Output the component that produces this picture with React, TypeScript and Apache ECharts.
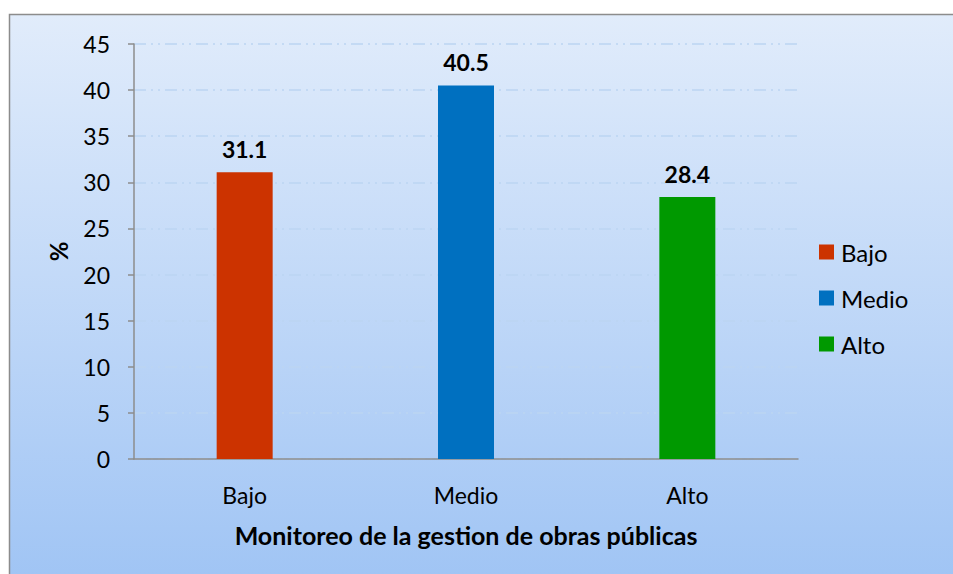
import React, { useEffect, useRef } from "react";
import * as echarts from "echarts";

const categories = ["Bajo", "Medio", "Alto"];
const seriesNames = ["Bajo", "Medio", "Alto"];
const values = [31.1, 40.5, 28.4];
const colors = ["#cc3300", "#0070c0", "#009900"];
const xTitle = "Monitoreo de la gestion de obras públicas";
const yTitle = "%";

const FONT = "Lato, 'Open Sans', sans-serif";

export default function App() {
  const ref = useRef<HTMLDivElement>(null);
  useEffect(() => {
    if (!ref.current) return;
    const chart = echarts.init(ref.current, undefined, { renderer: "svg" });
    const series = seriesNames.map((name, i) => ({
      name,
      type: "bar",
      stack: "all",
      barWidth: 56,
      data: categories.map((_, j) => (j === i ? values[i] : "-")),
      itemStyle: { color: colors[i] },
      label: {
        show: true,
        position: "top",
        distance: 12,
        fontFamily: FONT,
        fontWeight: "bold",
        fontSize: 23,
        color: "#000",
        formatter: (p: any) => Number(p.value).toFixed(1),
      },
    }));
    chart.setOption({
      animation: false,
      textStyle: { fontFamily: FONT },
      graphic: [
        {
          type: "rect",
          z: -10,
          silent: true,
          shape: { x: 9.5, y: 14.5, width: 960, height: 600 },
          style: {
            fill: new echarts.graphic.LinearGradient(0, 0, 0, 1, [
              { offset: 0, color: "#e1ecfb" },
              { offset: 1, color: "#9cc2f4" },
            ]),
            stroke: "#8c8c8c",
            lineWidth: 1.5,
          },
        },
      ],
      grid: { left: 134, right: 155, top: 44, bottom: 115, containLabel: false },
      legend: {
        orient: "vertical",
        left: 819,
        top: 240,
        padding: 0,
        itemWidth: 15,
        itemHeight: 15,
        itemGap: 22,
        icon: "rect",
        textStyle: { fontFamily: FONT, fontSize: 24, color: "#000", padding: [0, 0, 0, 2] },
        data: seriesNames,
      },
      xAxis: {
        type: "category",
        data: categories,
        name: xTitle,
        nameLocation: "middle",
        nameGap: 63,
        nameTextStyle: { fontFamily: FONT, fontWeight: "bold", fontSize: 25, color: "#000" },
        axisLine: { lineStyle: { color: "#8c8c8c", width: 1.5 } },
        axisTick: { show: false },
        axisLabel: { fontFamily: FONT, fontSize: 23, color: "#000", margin: 24 },
      },
      yAxis: {
        type: "value",
        min: 0,
        max: 45,
        interval: 5,
        name: yTitle,
        nameLocation: "middle",
        nameGap: 64,
        nameRotate: 90,
        nameTextStyle: { fontFamily: FONT, fontWeight: "bold", fontSize: 24, color: "#000" },
        axisLine: { show: true, lineStyle: { color: "#8c8c8c", width: 1.5 } },
        axisTick: { show: true, length: 6, lineStyle: { color: "#8c8c8c", width: 1.5 } },
        axisLabel: { fontFamily: FONT, fontSize: 23, color: "#000", margin: 24 },
        splitLine: {
          show: true,
          lineStyle: { color: "#bcd5f2", width: 1.5, type: [12, 5, 2, 5, 2, 5] },
        },
      },
      series,
    });
    return () => chart.dispose();
  }, []);
  return (
    <div style={{ position: "fixed", left: 0, top: 0, width: 953, height: 574, background: "#fff" }}>
      <div ref={ref} style={{ width: 953, height: 574 }} />
    </div>
  );
}
